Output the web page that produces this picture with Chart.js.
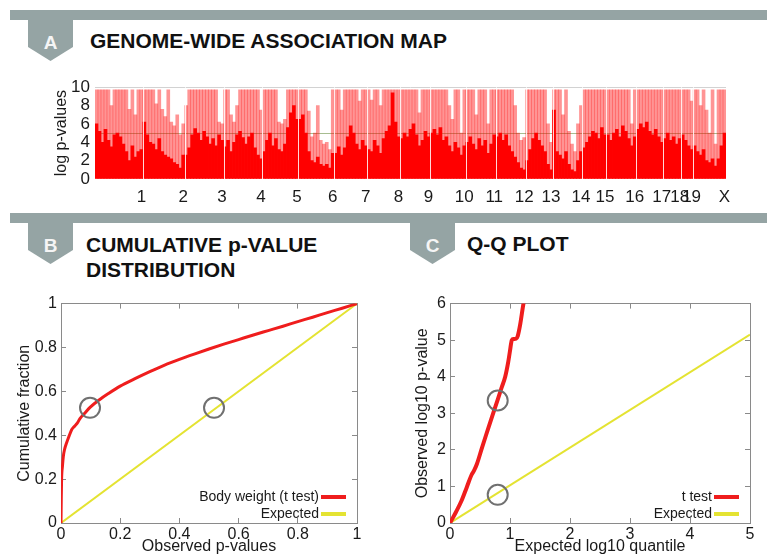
<!DOCTYPE html>
<html>
<head>
<meta charset="utf-8">
<script src="https://cdn.jsdelivr.net/npm/chart.js@4.4.1/dist/chart.umd.min.js"></script>
<style>
  body { margin: 0; background: #fff; width: 767px; height: 557px; overflow: hidden; position: relative;
         font-family: "Liberation Sans", Arial, sans-serif; }
  .band { position: absolute; left: 10px; right: 0; height: 10px; background: #95a4a4; }
  .tab { position: absolute; width: 45px; height: 41px; background: #95a4a4;
         clip-path: polygon(0 0, 100% 0, 100% 66%, 50% 100%, 0 66%);
         color: #f5f5f5; font-weight: bold; font-size: 19px; text-align: center; line-height: 45px; }
  .title { position: absolute; font-weight: bold; font-size: 21px; line-height: 25px; color: #111; white-space: nowrap; }
  canvas { position: absolute; }
</style>
</head>
<body>
<div class="band" style="top:10px"></div>
<div class="tab" style="left:28px;top:20px">A</div>
<div class="title" style="left:90px;top:28px">GENOME-WIDE ASSOCIATION MAP</div>

<div class="band" style="top:213px"></div>
<div class="tab" style="left:28px;top:223px">B</div>
<div class="title" style="left:86px;top:232px">CUMULATIVE p-VALUE<br>DISTRIBUTION</div>
<div class="tab" style="left:410px;top:223px">C</div>
<div class="title" style="left:467px;top:231px">Q-Q PLOT</div>

<canvas id="mapChart" width="722" height="130" style="left:45px;top:72px"></canvas>
<canvas id="cdfChart" width="383" height="272" style="left:12px;top:285px"></canvas>
<canvas id="qqChart" width="358" height="272" style="left:409px;top:285px"></canvas>

<script>
// ---- A: genome-wide association map (log p-values per marker window) ----
const chromNames = ['1','2','3','4','5','6','7','8','9','10','11','12','13','14','15','16','17','18','19','X'];
const peakLog = [
  [9.7, 9.7, 9.7, 9.7, 9.7, 8.0, 9.7, 9.7, 9.7, 9.7, 9.7, 7.6, 9.7, 7.0, 9.7, 9.7],
  [9.7, 9.7, 9.7, 9.7, 8.2, 9.7, 7.6, 6.8, 9.7, 6.2, 5.8, 7.0, 4.8, 6.0],
  [8.0, 9.7, 9.7, 9.7, 9.7, 9.7, 9.7, 9.7, 9.7, 9.7, 9.7, 6.2, 6.0],
  [9.7, 9.7, 7.0, 6.2, 8.0, 9.7, 9.7, 9.7, 9.7, 9.7, 9.7, 9.7, 7.5],
  [9.7, 9.7, 9.7, 9.7, 9.7, 6.2, 6.0, 6.5, 9.7, 9.7, 9.7, 9.7],
  [9.7, 9.7, 9.7, 7.4, 4.6, 5.0, 8.0, 4.2, 3.8, 4.0, 3.2, 9.7],
  [9.7, 9.7, 7.5, 9.7, 9.7, 9.7, 9.7, 9.7, 8.5, 9.7, 9.7],
  [9.7, 8.6, 9.7, 9.7, 8.0, 9.7, 9.7, 9.7, 9.7, 9.7, 9.7],
  [9.7, 9.7, 9.7, 9.7, 9.7, 9.7, 7.2, 9.7, 9.7, 9.7],
  [9.7, 9.7, 9.7, 9.7, 9.7, 9.7, 8.0, 6.5, 9.7, 9.7, 5.0, 9.7],
  [9.7, 9.7, 9.7, 7.0, 9.7, 9.7, 9.7, 6.0, 9.7, 9.7],
  [9.7, 9.7, 9.7, 9.7, 9.7, 9.7, 8.0, 5.0, 4.2, 4.5],
  [9.7, 9.7, 9.7, 9.7, 9.7, 9.7, 9.7, 6.0, 4.0],
  [9.7, 9.7, 9.7, 7.0, 9.7, 5.2, 3.8, 3.0, 6.0, 8.0],
  [9.7, 9.7, 9.7, 9.7, 9.7, 9.7, 9.7, 9.7],
  [9.7, 9.7, 9.7, 9.7, 9.7, 9.7, 9.7, 9.7, 6.0, 9.7],
  [9.7, 9.7, 9.7, 9.7, 9.7, 9.7, 9.7, 9.7, 9.7],
  [9.7, 9.7, 9.7, 9.7, 9.7, 9.7],
  [9.7, 9.7, 9.7, 8.5],
  [9.7, 9.7, 8.0, 9.7, 7.5, 5.0, 9.7, 3.8, 9.7, 9.7, 9.7]
];
const baseLog = [
  [6.0, 5.2, 4.0, 5.4, 4.2, 3.5, 4.8, 5.0, 4.6, 3.8, 3.0, 2.0, 3.6, 2.4, 3.0, 3.2],
  [6.2, 4.8, 4.0, 3.8, 3.2, 4.4, 3.0, 2.6, 2.4, 2.2, 1.8, 1.6, 1.2, 2.6],
  [2.6, 3.4, 4.8, 5.5, 5.0, 4.2, 5.2, 4.6, 3.8, 4.4, 3.6, 4.8, 4.2],
  [3.5, 4.2, 3.0, 4.0, 4.8, 5.2, 4.5, 3.8, 4.6, 5.0, 3.4, 2.6, 2.2],
  [3.0, 4.2, 5.0, 3.6, 4.4, 3.2, 3.0, 3.8, 5.6, 7.2, 8.0, 6.5],
  [6.5, 7.0, 5.0, 3.0, 2.0, 1.8, 2.4, 1.6, 1.4, 1.6, 1.2, 2.8],
  [2.8, 3.5, 2.6, 3.4, 4.6, 5.8, 5.0, 3.8, 3.2, 4.2, 3.6],
  [3.2, 3.0, 4.2, 3.6, 2.8, 4.4, 5.2, 5.8, 9.4, 6.2, 4.6],
  [4.4, 5.0, 4.6, 5.4, 6.0, 4.8, 3.6, 4.2, 5.2, 4.6],
  [5.0, 5.4, 4.8, 5.6, 4.2, 4.6, 3.6, 3.0, 4.0, 3.4, 2.6, 3.6],
  [4.0, 4.6, 3.8, 3.2, 4.4, 3.6, 4.2, 2.8, 3.8, 4.8],
  [4.6, 5.0, 4.2, 4.8, 3.6, 3.0, 2.4, 1.8, 1.2, 1.0],
  [2.0, 3.2, 4.4, 5.0, 4.2, 3.6, 3.0, 1.6, 1.0],
  [7.5, 3.0, 2.6, 2.2, 3.0, 1.6, 1.0, 0.8, 2.0, 3.0],
  [3.4, 4.0, 4.6, 5.2, 5.0, 4.4, 5.6, 4.8],
  [4.8, 4.2, 5.0, 5.4, 4.6, 5.8, 5.2, 4.4, 3.6, 4.6],
  [5.4, 6.0, 5.6, 6.2, 5.2, 4.8, 5.4, 4.6, 4.0],
  [4.4, 5.0, 4.2, 4.6, 3.8, 4.4],
  [4.8, 4.2, 3.6, 3.2],
  [3.6, 3.0, 2.6, 3.2, 2.0, 1.8, 2.2, 1.4, 2.2, 3.6, 5.0]
];
const mapThreshold = 5;
const mapTicks = [0, 2, 4, 6, 8, 10];

// ---- B: cumulative p-value distribution ----
const cdfObserved = [0, 0.001, 0.002, 0.005, 0.008, 0.012, 0.019, 0.027, 0.036, 0.045, 0.055, 0.064, 0.08, 0.098, 0.13, 0.16, 0.2, 0.25, 0.3, 0.35, 0.4, 0.45, 0.5, 0.55, 0.6, 0.65, 0.7, 0.75, 0.8, 0.85, 0.9, 0.95, 1];
const cdfFraction = [0, 0.12, 0.2, 0.26, 0.305, 0.335, 0.366, 0.395, 0.425, 0.44, 0.455, 0.476, 0.5, 0.527, 0.562, 0.59, 0.624, 0.658, 0.69, 0.72, 0.746, 0.77, 0.793, 0.815, 0.836, 0.857, 0.877, 0.897, 0.918, 0.938, 0.959, 0.979, 1];
const cdfExpected = [[0, 0], [1, 1]];
const cdfCircles = [[0.098, 0.525], [0.517, 0.525]];

// ---- C: Q-Q plot ----
const qqExpected = [0, 0.1, 0.19, 0.28, 0.36, 0.4, 0.45, 0.53, 0.6, 0.67, 0.73, 0.79, 0.86, 0.92, 0.97, 1.0, 1.03, 1.06, 1.1, 1.13, 1.17, 1.22, 1.26];
const qqObserved = [0, 0.3, 0.6, 0.98, 1.32, 1.43, 1.62, 2.04, 2.4, 2.75, 3.05, 3.35, 3.7, 4.0, 4.4, 4.71, 5.0, 5.03, 5.04, 5.12, 5.43, 5.96, 6.3];
const qqLine = [[0, 0], [5, 5.15]];
const qqCircles = [[0.795, 3.35], [0.795, 0.77]];

const FONT = '"Liberation Sans", Arial, sans-serif';
const RED = '#ef1d1d';
const YELLOW = '#e4e332';

// build the flat marker series for panel A
const mapLabels = [];
const mapPeak = [];
const mapBase = [];
const chromEnds = [];
chromNames.forEach((name, c) => {
  peakLog[c].forEach((v, j) => {
    mapLabels.push(j === peakLog[c].length - 1 ? name : '');
    mapPeak.push(v);
    mapBase.push(baseLog[c][j]);
  });
  chromEnds.push(mapLabels.length - 1);
});

const mapExtras = {
  id: 'mapExtras',
  beforeDatasetsDraw(chart) {
    const ctx = chart.ctx, a = chart.chartArea, y = chart.scales.y;
    const py = Math.round(y.getPixelForValue(mapThreshold)) + 0.5;
    ctx.save();
    ctx.strokeStyle = '#a7bd90';
    ctx.lineWidth = 1;
    ctx.beginPath(); ctx.moveTo(a.left, py); ctx.lineTo(a.right, py); ctx.stroke();
    ctx.restore();
  },
  afterDatasetsDraw(chart) {
    const ctx = chart.ctx, a = chart.chartArea, x = chart.scales.x;
    ctx.save();
    ctx.strokeStyle = 'rgba(255,255,255,0.85)';
    ctx.lineWidth = 1;
    chromEnds.slice(0, -1).forEach(i => {
      const px = Math.round((x.getPixelForValue(i) + x.getPixelForValue(i + 1)) / 2) + 0.5;
      ctx.beginPath(); ctx.moveTo(px, a.top); ctx.lineTo(px, a.bottom); ctx.stroke();
    });
    ctx.restore();
  }
};

new Chart(document.getElementById('mapChart'), {
  type: 'bar',
  data: {
    labels: mapLabels,
    datasets: [
      { data: mapBase, backgroundColor: '#ff0000', barPercentage: 1, categoryPercentage: 1, grouped: false },
      { data: mapPeak, backgroundColor: 'rgba(255,0,0,0.42)', barPercentage: 1, categoryPercentage: 1, grouped: false }
    ]
  },
  options: {
    responsive: false,
    animation: false,
    layout: { padding: { top: 10, right: 41, left: 0, bottom: 0 } },
    plugins: { legend: { display: false }, tooltip: { enabled: false } },
    scales: {
      x: {
        grid: { display: false },
        border: { display: false },
        ticks: { autoSkip: false, maxRotation: 0, padding: 0, color: '#1a1a1a', font: { family: FONT, size: 17 } },
        afterFit(s) { s.height = 23; }
      },
      y: {
        min: 0, max: 10,
        afterBuildTicks(s) { s.ticks = mapTicks.map(v => ({ value: v })); },
        border: { display: false },
        grid: { drawTicks: false, color: c => c.tick && c.tick.value === 10 ? '#d2d2d2' : 'rgba(0,0,0,0)' },
        ticks: { autoSkip: false, padding: 5, color: '#1a1a1a', font: { family: FONT, size: 17 } },
        title: { display: true, text: 'log p-values', color: '#1a1a1a', font: { family: FONT, size: 16 }, padding: { top: 7, bottom: 0 } },
        afterFit(s) { s.width = 50; }
      }
    }
  },
  plugins: [mapExtras]
});

// legend drawn in the lower right corner of the plot box
const cornerLegend = {
  id: 'cornerLegend',
  afterDatasetsDraw(chart) {
    const ctx = chart.ctx, a = chart.chartArea;
    const items = chart.data.datasets.filter(d => d.showLine);
    ctx.save();
    ctx.font = '14px ' + FONT;
    ctx.textAlign = 'right';
    ctx.textBaseline = 'middle';
    ctx.fillStyle = '#1a1a1a';
    items.forEach((d, i) => {
      const y = a.bottom - 26 + i * 17;
      const x2 = a.right - 11, x1 = x2 - 25;
      ctx.strokeStyle = d.borderColor;
      ctx.lineWidth = 4;
      ctx.beginPath(); ctx.moveTo(x1, y); ctx.lineTo(x2, y); ctx.stroke();
      ctx.fillText(d.label, x1 - 2, y);
    });
    ctx.restore();
  }
};

const shortNum = v => String(Math.round(v * 10) / 10);

function boxScales(xMax, yMax, step, xTitle, yTitle, yWidth, yTitlePad) {
  const tickFont = { family: FONT, size: 16 };
  const inner = { drawOnChartArea: false, drawTicks: true, tickLength: -5, color: '#8a8a8a' };
  const border = { display: true, color: '#8a8a8a', width: 1 };
  return {
    x: {
      type: 'linear', min: 0, max: xMax,
      ticks: { stepSize: step, padding: 7, color: '#1a1a1a', font: tickFont, maxRotation: 0, callback: shortNum },
      grid: inner, border: border,
      title: { display: true, text: xTitle, color: '#1a1a1a', font: { family: FONT, size: 16 }, padding: { top: 0, bottom: 1 } },
      afterFit(s) { s.height = 34; }
    },
    y: {
      type: 'linear', min: 0, max: yMax,
      ticks: { stepSize: step, padding: 9, color: '#1a1a1a', font: tickFont, callback: shortNum },
      grid: inner, border: border,
      title: { display: true, text: yTitle, color: '#1a1a1a', font: { family: FONT, size: 16 }, padding: { top: yTitlePad, bottom: 0 } },
      afterFit(s) { s.width = yWidth; }
    },
    x2: {
      type: 'linear', position: 'top', axis: 'x', min: 0, max: xMax,
      ticks: { stepSize: step, display: false },
      grid: inner, border: border,
      afterFit(s) { s.height = 0; }
    },
    y2: {
      type: 'linear', position: 'right', axis: 'y', min: 0, max: yMax,
      ticks: { stepSize: step, display: false },
      grid: inner, border: border,
      afterFit(s) { s.width = 0; }
    }
  };
}

const toPts = (xs, ys) => xs.map((v, i) => ({ x: v, y: ys[i] }));
const pairPts = arr => arr.map(p => ({ x: p[0], y: p[1] }));

function circleSet(pts) {
  return { data: pairPts(pts), pointRadius: 10, pointBorderWidth: 2, pointBorderColor: '#707070',
           pointBackgroundColor: 'rgba(0,0,0,0)', showLine: false };
}

new Chart(document.getElementById('cdfChart'), {
  type: 'scatter',
  data: {
    datasets: [
      circleSet(cdfCircles),
      { label: 'Body weight (t test)', data: toPts(cdfObserved, cdfFraction), showLine: true, borderColor: RED,
        borderWidth: 3, pointRadius: 0, cubicInterpolationMode: 'monotone' },
      { label: 'Expected', data: pairPts(cdfExpected), showLine: true, borderColor: YELLOW, borderWidth: 2, pointRadius: 0 }
    ]
  },
  options: {
    responsive: false,
    animation: false,
    layout: { padding: { top: 12, right: 38, left: 0, bottom: 0 } },
    plugins: { legend: { display: false }, tooltip: { enabled: false } },
    scales: boxScales(1, 1, 0.2, 'Observed p-values', 'Cumulative fraction', 49, 3)
  },
  plugins: [cornerLegend]
});

new Chart(document.getElementById('qqChart'), {
  type: 'scatter',
  data: {
    datasets: [
      circleSet(qqCircles),
      { label: 't test', data: toPts(qqExpected, qqObserved), showLine: true, borderColor: RED,
        borderWidth: 4, pointRadius: 0, cubicInterpolationMode: 'monotone' },
      { label: 'Expected', data: pairPts(qqLine), showLine: true, borderColor: YELLOW, borderWidth: 2, pointRadius: 0 }
    ]
  },
  options: {
    responsive: false,
    animation: false,
    layout: { padding: { top: 14, right: 17, left: 0, bottom: 0 } },
    plugins: { legend: { display: false }, tooltip: { enabled: false } },
    scales: boxScales(5, 6, 1, 'Expected log10 quantile', 'Observed log10 p-value', 41, 4)
  },
  plugins: [cornerLegend]
});
</script>
</body>
</html>
